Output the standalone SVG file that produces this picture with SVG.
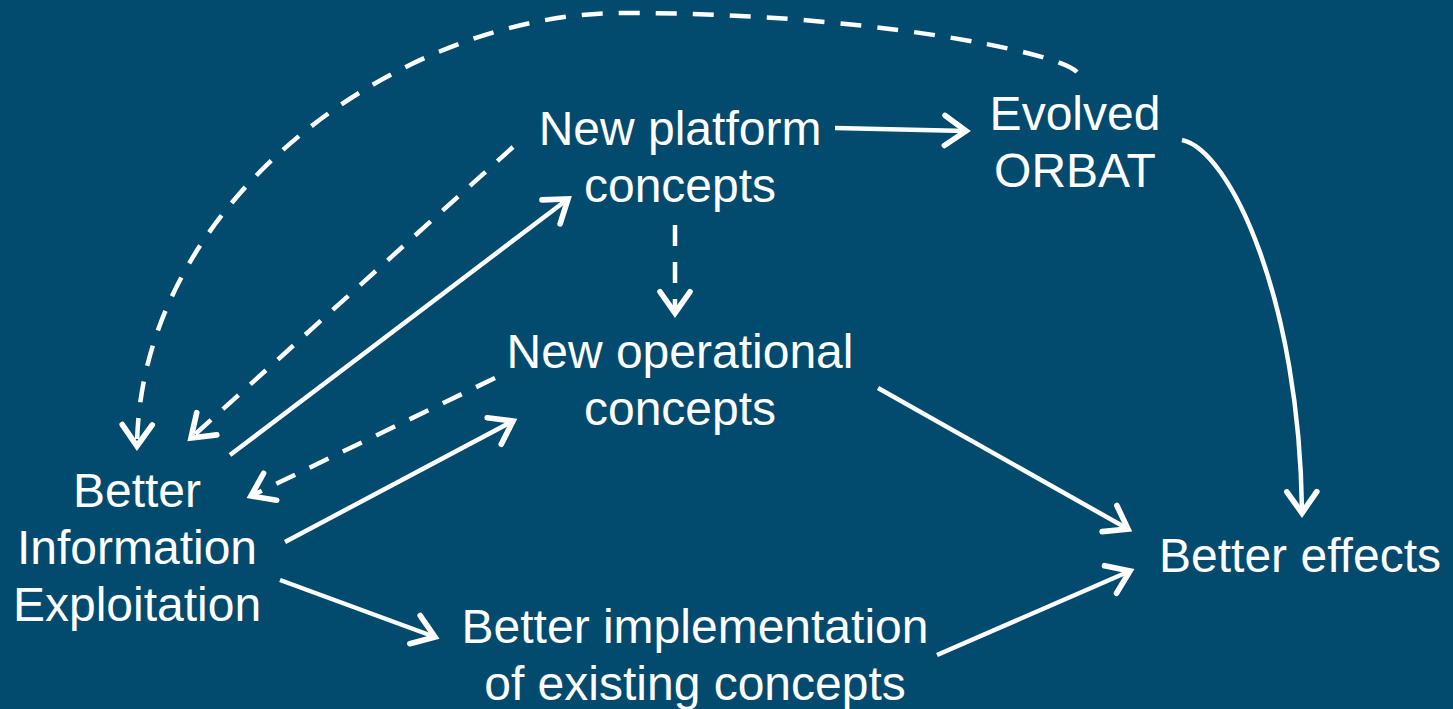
<svg xmlns="http://www.w3.org/2000/svg" width="1453" height="709" viewBox="0 0 1453 709">
<defs>
<style>
text{font-family:"Liberation Sans",Arial,sans-serif;font-size:48px;fill:#fff;text-anchor:middle}
.c{fill:none;stroke:#fff;stroke-width:4.5;stroke-linecap:butt}
.d{stroke-dasharray:21 16}
</style>
<marker id="a" markerUnits="userSpaceOnUse" markerWidth="40" markerHeight="40" refX="0" refY="0" viewBox="-22 -16 26 32" orient="auto" overflow="visible">
<path d="M-17,-12 L0,0 L-17,12" fill="none" stroke="#fff" stroke-width="4.5" stroke-linecap="round" stroke-linejoin="miter"/>
</marker>
</defs>
<rect width="1453" height="709" fill="#034b6e"/>
<g id="connectors">
<path class="c" d="M835,128 L966,131" marker-end="url(#a)"/>
<path class="c" d="M1182,140 C1230,150 1300,300 1302,513" marker-end="url(#a)"/>
<path class="c d" d="M1077,72 C1055,50 850,12 620,13 C400,14 140,200 137,446" marker-end="url(#a)"/>
<path class="c d" d="M513,147 L191,438" marker-end="url(#a)"/>
<path class="c" d="M230,455 L568,199" marker-end="url(#a)"/>
<path class="c d" d="M675,225 L675,313" marker-end="url(#a)"/>
<path class="c d" d="M495,378 L251,496" marker-end="url(#a)"/>
<path class="c" d="M285,542 L513,421" marker-end="url(#a)"/>
<path class="c" d="M280,580 L435,637" marker-end="url(#a)"/>
<path class="c" d="M878,388 L1128,529" marker-end="url(#a)"/>
<path class="c" d="M937,655 L1130,571" marker-end="url(#a)"/>
</g>
<g id="platform"><text x="680" y="145">New platform</text><text x="680" y="202">concepts</text></g>
<g id="orbat"><text x="1075" y="130">Evolved</text><text x="1075" y="187">ORBAT</text></g>
<g id="operational"><text x="680" y="368">New operational</text><text x="680" y="425">concepts</text></g>
<g id="info"><text x="137" y="507">Better</text><text x="137" y="564">Information</text><text x="137" y="621">Exploitation</text></g>
<g id="effects"><text x="1300" y="572">Better effects</text></g>
<g id="implementation"><text x="695" y="643">Better implementation</text><text x="695" y="700">of existing concepts</text></g>
</svg>
